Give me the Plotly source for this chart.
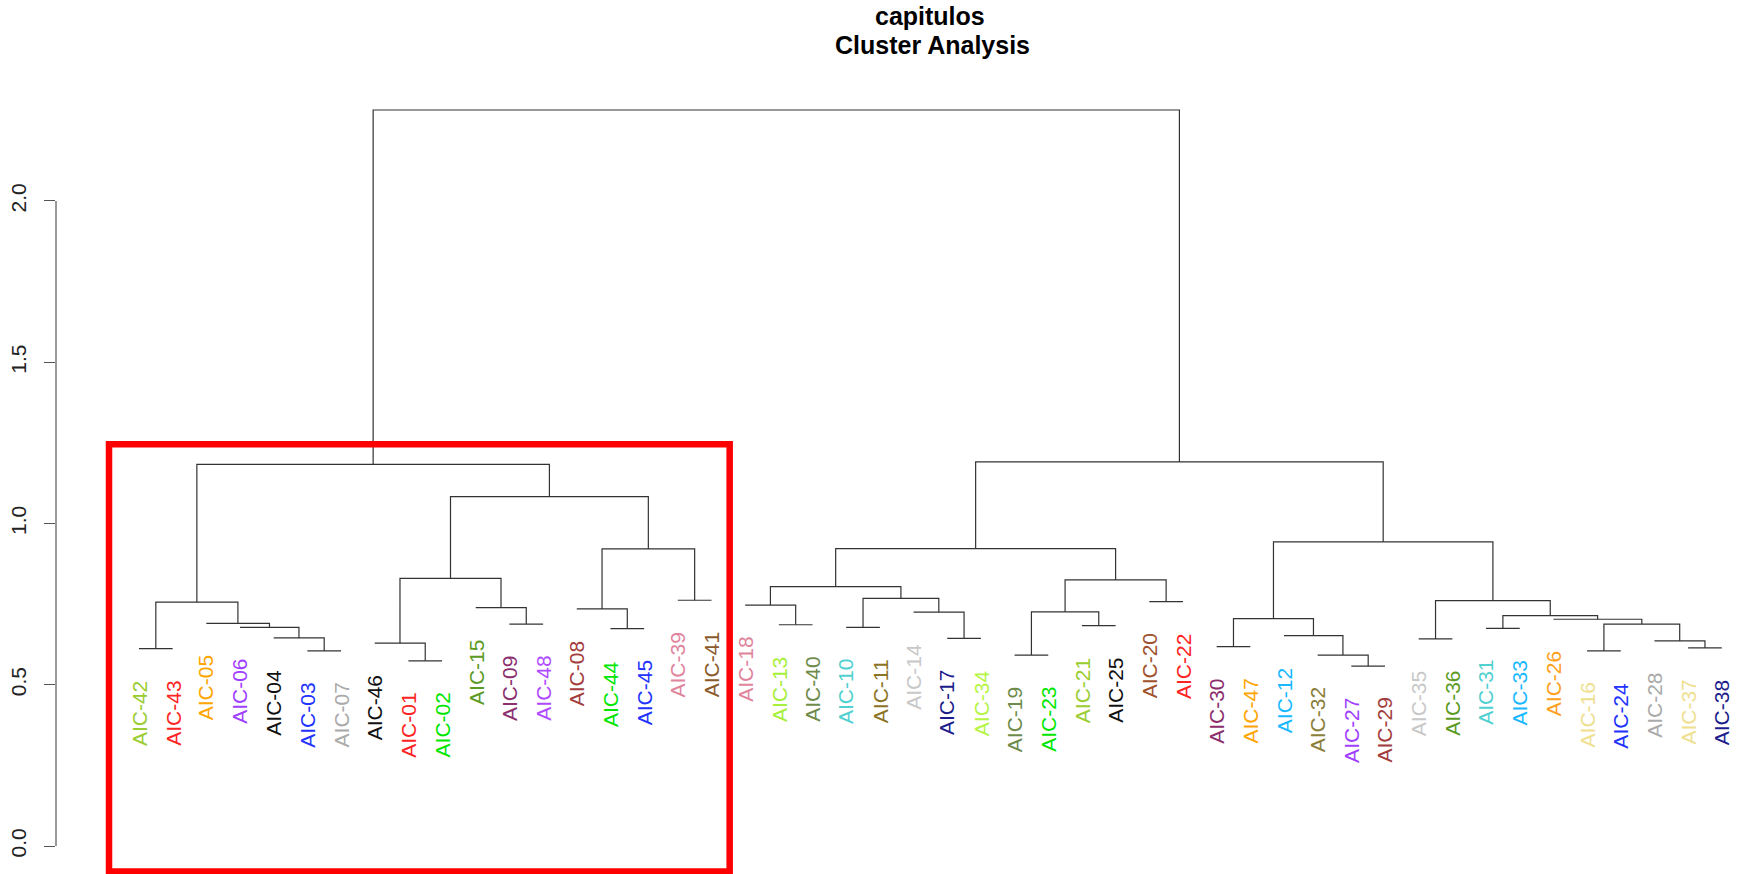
import plotly.graph_objects as go

# ---- data -------------------------------------------------------------
leaf_labels = ["AIC-42", "AIC-43", "AIC-05", "AIC-06", "AIC-04", "AIC-03", "AIC-07", "AIC-46",
               "AIC-01", "AIC-02", "AIC-15", "AIC-09", "AIC-48", "AIC-08", "AIC-44", "AIC-45",
               "AIC-39", "AIC-41", "AIC-18", "AIC-13", "AIC-40", "AIC-10", "AIC-11", "AIC-14",
               "AIC-17", "AIC-34", "AIC-19", "AIC-23", "AIC-21", "AIC-25", "AIC-20", "AIC-22",
               "AIC-30", "AIC-47", "AIC-12", "AIC-32", "AIC-27", "AIC-29", "AIC-35", "AIC-36",
               "AIC-31", "AIC-33", "AIC-26", "AIC-16", "AIC-24", "AIC-28", "AIC-37", "AIC-38"]

leaf_colors = ["#9ACD32", "#FF2424", "#FFA500", "#A040FF", "#111111", "#2233FF", "#AAAAAA", "#111111",
               "#FF2424", "#00E600", "#5B9A23", "#8B2F6E", "#B04AFF", "#A33C3C", "#00E600", "#2233FF",
               "#E0849C", "#8B5A2B", "#E0849C", "#A6EF3A", "#6E8B4A", "#50D0D0", "#8C7425", "#C8C8C8",
               "#1C1C8C", "#B5F545", "#6E8B4A", "#00E600", "#9ACD32", "#111111", "#A0522D", "#FF2424",
               "#8B2D6B", "#FFA500", "#1AB8FF", "#8B7D3A", "#A040FF", "#A33C3C", "#C8C8C8", "#5B9A23",
               "#50D0D0", "#1AB8FF", "#FFA020", "#EEE090", "#2233FF", "#AAAAAA", "#EEE090", "#1C1C8C"]

# merges: children (leaf name or merge id "m<k>") and height
merge_a = ["AIC-03", "AIC-04", "AIC-06", "AIC-05", "AIC-42", "m5", "AIC-01", "AIC-46", "AIC-09", "AIC-15",
           "m8", "AIC-44", "AIC-08", "AIC-39", "m13", "m11", "m6",
           "AIC-13", "AIC-18", "AIC-10", "AIC-17", "AIC-14", "m20", "m19", "AIC-19", "AIC-21", "m25",
           "AIC-20", "m27", "m24",
           "AIC-30", "AIC-27", "AIC-32", "AIC-12", "m31", "AIC-35", "AIC-31", "AIC-16", "AIC-37", "AIC-28",
           "m38", "AIC-26", "m37", "m36", "m35", "m30", "m17"]
merge_b = ["AIC-07", "m1", "m2", "m3", "AIC-43", "m4", "AIC-02", "m7", "AIC-48", "m9",
           "m10", "AIC-45", "m12", "AIC-41", "m14", "m15", "m16",
           "AIC-40", "m18", "AIC-11", "AIC-34", "m21", "m22", "m23", "AIC-23", "AIC-25", "m26",
           "AIC-22", "m28", "m29",
           "AIC-47", "AIC-29", "m32", "m33", "m34", "AIC-36", "AIC-33", "AIC-24", "AIC-38", "m39",
           "m40", "m41", "m42", "m43", "m44", "m45", "m46"]
merge_h = [0.605, 0.645, 0.678, 0.690, 0.612, 0.756, 0.574, 0.629, 0.688, 0.739,
           0.830, 0.674, 0.735, 0.762, 0.921, 1.083, 1.183,
           0.686, 0.747, 0.678, 0.644, 0.725, 0.768, 0.804, 0.592, 0.683, 0.726,
           0.758, 0.825, 0.922,
           0.618, 0.558, 0.592, 0.652, 0.705, 0.642, 0.675, 0.605, 0.614, 0.636,
           0.688, 0.703, 0.714, 0.761, 0.943, 1.191, 2.282]

y_ticks = [0.0, 0.5, 1.0, 1.5, 2.0]
y_tick_text = ["0.0", "0.5", "1.0", "1.5", "2.0"]
title_lines = ["capitulos", "Cluster Analysis"]

# ---- build dendrogram geometry ---------------------------------------
FONT = "Liberation Sans, Arial, Helvetica, sans-serif"
leaf_x = {name: i + 1 for i, name in enumerate(leaf_labels)}
node_x, node_h = {}, {}
leaf_h = {}
seg_x, seg_y = [], []
for k, (a, b, h) in enumerate(zip(merge_a, merge_b, merge_h), start=1):
    pts = []
    for c in (a, b):
        if c.startswith("m"):
            pts.append((node_x[c], node_h[c]))
        else:
            leaf_h[c] = h
            pts.append((leaf_x[c], h))
    (xa, ha), (xb, hb) = pts
    seg_x += [xa, xa, xb, xb, None]
    seg_y += [ha, h, h, hb, None]
    node_x["m%d" % k] = (xa + xb) / 2
    node_h["m%d" % k] = h

fig = go.Figure()
fig.add_trace(go.Scatter(x=seg_x, y=seg_y, mode="lines",
                         line=dict(color="#333333", width=1.2),
                         hoverinfo="skip", showlegend=False))

label_gap = 0.093
for name, col in zip(leaf_labels, leaf_colors):
    fig.add_annotation(x=leaf_x[name], y=leaf_h[name] - label_gap, xref="x", yref="y",
                       text=name, textangle=-90, showarrow=False,
                       xanchor="center", yanchor="top",
                       font=dict(family=FONT, size=21, color=col))

# titles
fig.add_annotation(x=(930 - 56) / 1686, y=1 + (100 - 16) / 774, xref="paper", yref="paper",
                   text="<b>%s</b>" % title_lines[0], showarrow=False,
                   xanchor="center", yanchor="middle",
                   font=dict(family=FONT, size=25, color="black"))
fig.add_annotation(x=(932 - 56) / 1686, y=1 + (100 - 45) / 774, xref="paper", yref="paper",
                   text="<b>%s</b>" % title_lines[1], showarrow=False,
                   xanchor="center", yanchor="middle",
                   font=dict(family=FONT, size=25, color="black"))

# y-axis line (R style: spans only the tick range)
fig.add_shape(type="line", xref="paper", yref="y", x0=0, x1=0,
              y0=y_ticks[0], y1=y_ticks[-1], line=dict(color="#555555", width=1.2))

# red highlight box around the left cluster
n_left = leaf_labels.index("AIC-41") + 1
fig.add_shape(type="rect", xref="x", yref="y",
              x0=1 - 0.89, x1=n_left + 0.54, y0=-0.079, y1=node_h["m17"] + 0.063,
              line=dict(color="#FF0000", width=6.5), fillcolor="rgba(0,0,0,0)")

fig.update_layout(
    width=1742, height=874,
    margin=dict(l=56, r=0, t=100, b=0),
    paper_bgcolor="white", plot_bgcolor="white",
    showlegend=False,
    xaxis=dict(visible=False, range=[-1.464, 48.6], fixedrange=True),
    yaxis=dict(range=[-0.0868, 2.313], tickvals=y_ticks, ticktext=y_tick_text,
               ticks="outside", ticklen=11, tickcolor="#555555", tickwidth=1.2,
               tickangle=-90, ticklabelstandoff=10,
               tickfont=dict(family=FONT, size=21, color="#222222"),
               showgrid=False, zeroline=False, showline=False, fixedrange=True),
)

fig.write_html("out.html",
               config={"displayModeBar": False},
               post_script="document.body.style.margin='0';"
                           "document.body.style.overflow='hidden';")
